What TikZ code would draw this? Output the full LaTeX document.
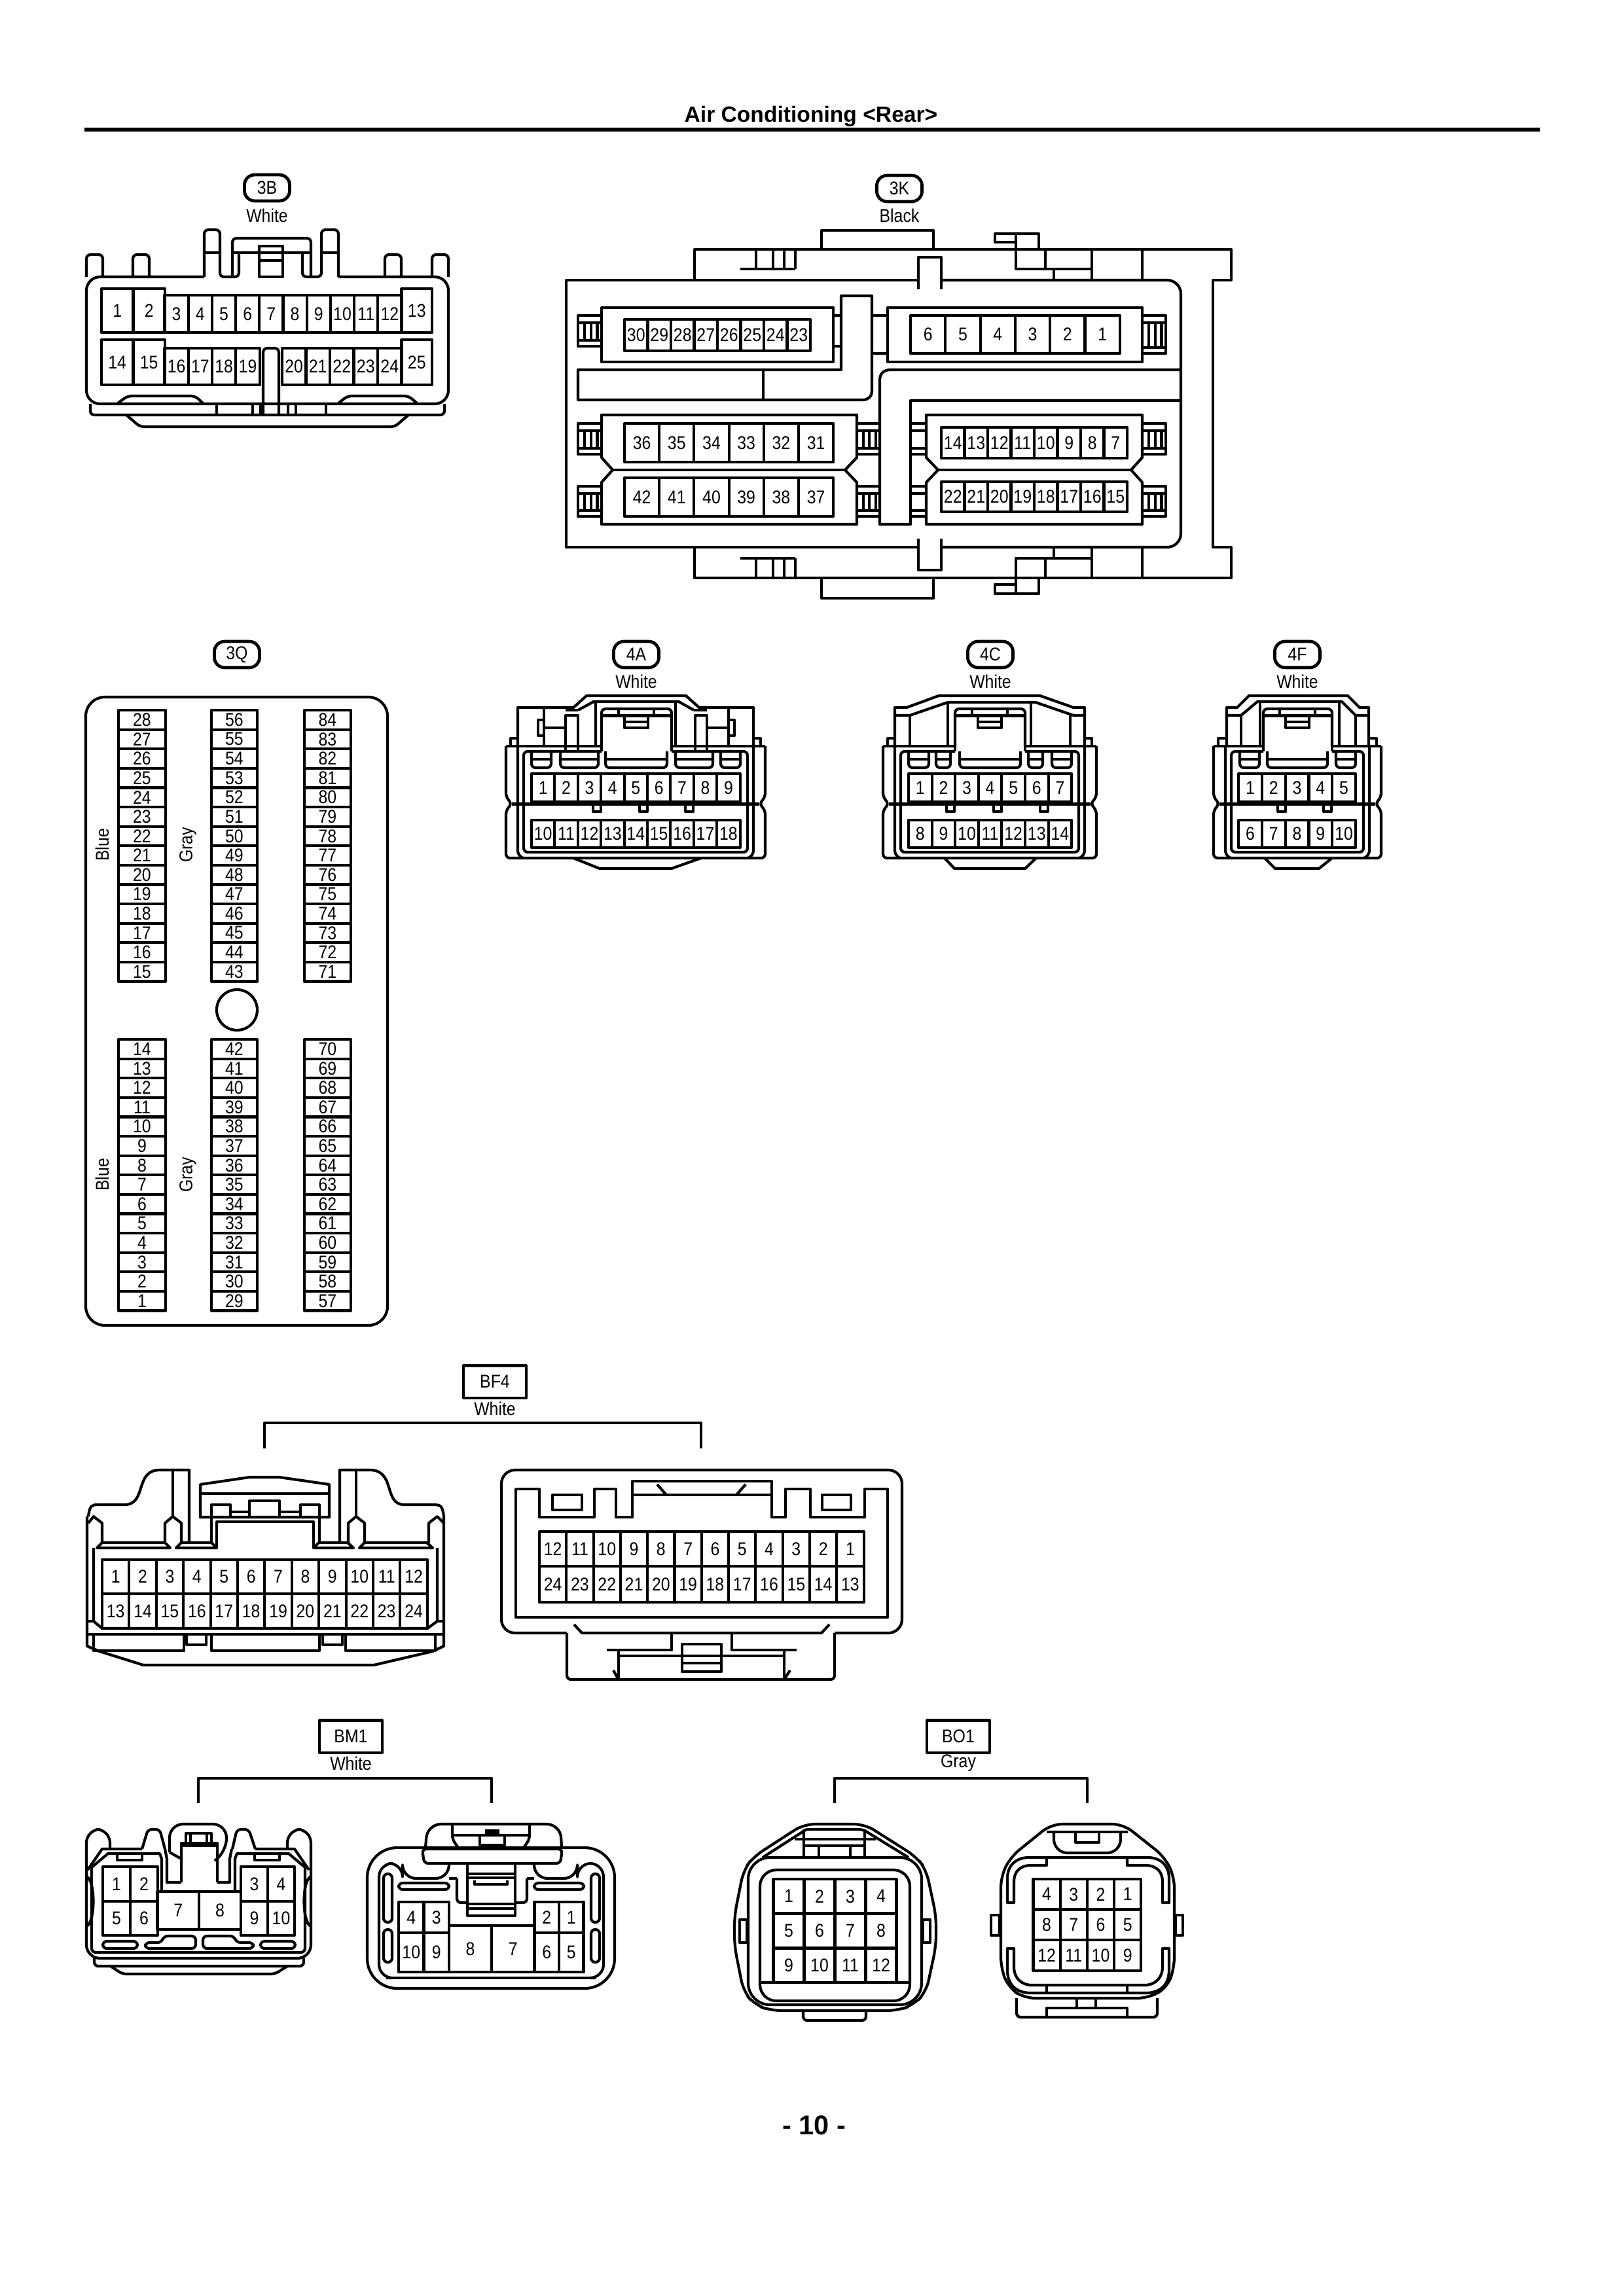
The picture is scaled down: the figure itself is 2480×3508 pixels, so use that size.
\documentclass[tikz,border=0pt]{standalone}
\usepackage{fontspec}
\setmainfont{Liberation Sans}
\newfontfamily\pinfont[FakeStretch=0.88]{Liberation Sans}
\tikzset{
  pincell/.style={draw,rectangle,inner sep=0pt,outer sep=0pt,font=\pinfont\fontsize{6.8}{7}\selectfont},
  pilltag/.style={draw,rectangle,rounded corners=3.8bp,minimum width=16.6bp,minimum height=9.6bp,inner sep=0pt,line width=1.15bp,font=\pinfont\fontsize{6.8}{7}\selectfont},
  boxtag/.style={draw,rectangle,minimum width=23bp,minimum height=11.8bp,inner sep=0pt,font=\pinfont\fontsize{6.8}{7}\selectfont},
  colorlabel/.style={inner sep=0pt,font=\pinfont\fontsize{6.8}{7}\selectfont},
  softbend/.style={rounded corners=1.5pt},
  widebend/.style={rounded corners=5pt},
  bracketline/.style={line width=1.1bp}
}
\newcommand{\pinrow}[6]{%
  \foreach \n [count=\i from 0] in {#6}
    \node[pincell,minimum width=#4*0.24bp,minimum height=#5*0.24bp] (#1p\n) at ({#2+(\i+0.5)*#4},{#3+#5/2}) {\n};
}
\newcommand{\pincol}[6]{%
  \foreach \n [count=\i from 0] in {#6}
    \node[pincell,minimum width=#4*0.24bp,minimum height=#5*0.24bp] (#1p\n) at ({#2+#4/2},{#3+(\i+0.5)*#5}) {\n};
}
\newcommand{\comb}[4]{%
  \draw (#1,#3) rectangle (#2,#4);
  \draw ({#1},{#3+11}) -- ({#2},{#3+11});
  \draw ({#1},{#4-9}) -- ({#2},{#4-9});
  \foreach \f in {0.28,0.55,0.82}
    \draw ({#1+\f*(#2-#1)},{#3+11}) -- ({#1+\f*(#2-#1)},{#4-9});
}
\newcommand{\lowbody}[4]{%
  \draw[softbend] ({#1-#2},1140) -- ({#1-#2},1218) -- ({#1-#2+9},1228) -- ({#1-#2},1238) -- ({#1-#2},1311) -- ({#1+#2},1311) -- ({#1+#2},1238) -- ({#1+#2-9},1228) -- ({#1+#2},1218) -- ({#1+#2},1140);
  \draw[line width=1.2bp] ({#1-#2+9},1228) -- ({#1+#2-9},1228);
  \draw ({#1-#2},1140) -- (#3,1140) (#4,1140) -- ({#1+#2},1140);
  \draw ({#1-#2+7},1140) -- ({#1-#2+7},1128) -- ({#1-#2+18},1128);
  \draw ({#1+#2-7},1140) -- ({#1+#2-7},1128) -- ({#1+#2-18},1128);
  \draw[softbend] ({#1-#2+18},1140) -- ({#1-#2+18},1306) -- ({#1-#2+26},1311);
  \draw[softbend] ({#1+#2-18},1140) -- ({#1+#2-18},1306) -- ({#1+#2-26},1311);
  \draw[softbend] (#3,1148) -- ({#1-#2+27},1148) -- ({#1-#2+27},1302) -- ({#1+#2-27},1302) -- ({#1+#2-27},1148) -- (#4,1148);
  \draw (#3,1140) -- (#3,1148) (#4,1140) -- (#4,1148);
}
\newcommand{\latch}[3]{%
  \draw[softbend] (#2,1140) -- (#2,1083) -- (#3,1083) -- (#3,1140);
  \draw[line width=1.2bp] (#2,1093) -- (#3,1093);
  \draw ({#1-18},1093) -- ({#1-18},1112) -- ({#1+18},1112) -- ({#1+18},1093);
  \draw ({#1-18},1103) -- ({#1+18},1103);
  \foreach \d in {-27,27}
    \draw ({#1+\d},1083) -- ({#1+\d},1093);
}
\begin{document}
\begin{tikzpicture}[x=0.24bp,y=-0.24bp,line width=1bp,line join=round]
\useasboundingbox (0,0) rectangle (2480,3508);
\fill[white] (0,0) rectangle (2480,3508);

\node[font=\bfseries\fontsize{8.1}{9}\selectfont,inner sep=0pt] (title) at (1239,178) {Air Conditioning <Rear>};
\coordinate (rulel) at (129,198);
\coordinate (ruler) at (2353,198);
\draw[line width=1.6bp] (rulel) -- (ruler);
\node[font=\bfseries\fontsize{10}{12}\selectfont,inner sep=0pt] (pageno) at (1244,3247) {- 10 -};

% 3B
\node[pilltag] (tag3B) at (408,287) {3B};
\node[colorlabel] (col3B) at (408,329) {White};
\draw[softbend] (132,423) -- (132,389) -- (157,389) -- (157,423);
\draw[softbend] (203,423) -- (203,389) -- (228,389) -- (228,423);
\draw[softbend] (588,423) -- (588,389) -- (613,389) -- (613,423);
\draw[softbend] (660,423) -- (660,389) -- (685,389) -- (685,423);
\draw[widebend] (312,423) -- (132,423) -- (132,617) -- (685,617) -- (685,423) -- (517,423);
\draw[softbend] (312,423) -- (312,351) -- (336,351) -- (336,423) -- (365,423) -- (365,386);
\draw[softbend] (517,423) -- (517,351) -- (491,351) -- (491,423) -- (462,423) -- (462,386);
\draw (312,386) -- (336,386) (491,386) -- (517,386);
\draw[softbend] (355,423) -- (355,364) -- (475,364) -- (475,423);
\draw (355,386) -- (475,386);
\draw (396,376) rectangle (432,423);
\draw (396,398) -- (432,398);
\draw[softbend] (138,617) -- (138,634) -- (679,634) -- (679,617);
\foreach \x in {331,386,398,440,452,498}
  \draw (\x,617) -- (\x,634);
\draw[softbend] (193,634) -- (214,652) -- (603,652) -- (624,634);
\draw[softbend] (180,616) -- (195,605) -- (298,605) -- (310,616);
\draw[softbend] (517,616) -- (531,605) -- (624,605) -- (637,616);
\draw[softbend] (402,634) -- (402,532) -- (426,532) -- (426,634);
\pinrow{b}{155}{441}{48.5}{67}{1,2}
\pinrow{b}{251.5}{451}{36.2}{57}{3,...,12}
\pinrow{b}{613.5}{441}{46.5}{67}{13}
\pinrow{b}{155}{519}{48.5}{69}{14,15}
\pinrow{b}{251.5}{532}{36.3}{56}{16,...,19}
\pinrow{b}{431}{532}{36.5}{56}{20,...,24}
\pinrow{b}{613.5}{519}{46.5}{69}{25}

% 3K
\node[pilltag] (tag3K) at (1374,288) {3K};
\node[colorlabel] (col3K) at (1374,329) {Black};
\draw (1255,381) -- (1255,352) -- (1426,352) -- (1426,381);
\draw (1061,428) -- (1061,381) -- (1587,381) -- (1587,357) -- (1520,357) -- (1520,370) -- (1552,370) -- (1552,411) -- (1668,411);
\draw (1587,381) -- (1881,381) -- (1881,428) -- (1853,428) -- (1853,836) -- (1881,836) -- (1881,883) -- (1061,883) -- (1061,836);
\draw (1552,357) -- (1552,370);
\draw (1597,381) -- (1597,411) (1610,411) -- (1610,428) (1668,381) -- (1668,428) (1745,381) -- (1745,428);
\draw (1255,883) -- (1255,914) -- (1426,914) -- (1426,883);
\draw (1587,883) -- (1587,907) -- (1520,907) -- (1520,893) -- (1552,893) -- (1552,853) -- (1668,853);
\draw (1552,893) -- (1552,907);
\draw (1597,853) -- (1597,883) (1610,836) -- (1610,853) (1668,836) -- (1668,883) (1745,836) -- (1745,883);
\draw (1131,411) -- (1215,411) (1131,853) -- (1215,853);
\foreach \x in {1155,1181,1198,1215}{
  \draw (\x,383) -- (\x,411);
  \draw (\x,853) -- (\x,881);
}
\draw (1403,428) -- (865,428) -- (865,836) -- (1403,836);
\draw[widebend] (1438,428) -- (1804,428) -- (1804,836) -- (1438,836);
\draw (1403,442) -- (1403,393) -- (1438,393) -- (1438,442);
\draw (1403,823) -- (1403,871) -- (1438,871) -- (1438,823);
% upper blocks
\draw (919,470) rectangle (1273,553);
\comb{883}{919}{482}{529}
\draw (1273,482) -- (1285,482) (1273,529) -- (1285,529);
\draw (883,565) -- (1285,565) -- (1285,452) -- (1332,452) -- (1332,597) .. controls (1332,606) and (1326,611) .. (1318,611) -- (883,611) -- cycle;
\draw (1166,565) -- (1166,611);
\draw (1332,482) -- (1356,482) (1332,540) -- (1356,540);
\draw (1356,470) rectangle (1745,553);
\comb{1745}{1781}{482}{540}
\draw (1804,565) -- (1360,565) .. controls (1350,565) and (1344,571) .. (1344,581) -- (1344,801) -- (1391,801) -- (1391,612) -- (1804,612);
\pinrow{k}{954}{488}{35.5}{48}{30,29,...,23}
\pinrow{k}{1391}{482}{53.3}{58}{6,5,...,1}
% lower blocks
\draw (919,634) -- (1309,634) -- (1309,699) -- (1291,718) -- (1309,737) -- (1309,801) -- (919,801) -- (919,737) -- (936,718) -- (919,699) -- cycle;
\draw (936,718) -- (1291,718);
\draw (1415,634) -- (1745,634) -- (1745,699) -- (1728,718) -- (1745,737) -- (1745,801) -- (1415,801) -- (1415,737) -- (1433,718) -- (1415,699) -- cycle;
\draw (1433,718) -- (1728,718);
\foreach \yy/\yb in {647/694,743/789}{
  \comb{883}{919}{\yy}{\yb}
  \comb{1309}{1344}{\yy}{\yb}
  \comb{1745}{1781}{\yy}{\yb}
  \draw (1391,\yy) -- (1415,\yy) (1391,\yb) -- (1415,\yb);
  \draw (1391,{\yy+11}) -- (1415,{\yy+11});
  \draw (1391,{\yb-9}) -- (1415,{\yb-9});
}
\pinrow{k}{954}{647}{53.2}{59}{36,35,...,31}
\pinrow{k}{954}{730}{53.2}{59}{42,41,...,37}
\pinrow{k}{1438}{653}{35.5}{47}{14,13,...,7}
\pinrow{k}{1438}{736}{35.5}{46}{22,21,...,15}

% 3Q
\node[pilltag] (tag3Q) at (362,1000) {3Q};
\draw[rounded corners=7pt] (131,1065) rectangle (592,2025);
\node[draw,circle,minimum size=62*0.24bp,inner sep=0pt] (hole3Q) at (362,1543) {};
\node[colorlabel,rotate=90] (blueup) at (156,1291) {Blue};
\node[colorlabel,rotate=90] (grayup) at (287,1291) {Gray};
\node[colorlabel,rotate=90] (bluelow) at (156,1795) {Blue};
\node[colorlabel,rotate=90] (graylow) at (287,1795) {Gray};
\pincol{q}{181}{1085}{72}{29.6}{28,27,...,15}
\pincol{q}{323}{1085}{70}{29.6}{56,55,...,43}
\pincol{q}{465}{1085}{71}{29.6}{84,83,...,71}
\pincol{q}{181}{1588}{72}{29.6}{14,13,...,1}
\pincol{q}{323}{1588}{70}{29.6}{42,41,...,29}
\pincol{q}{465}{1588}{71}{29.6}{70,69,...,57}

% 4A
\node[pilltag] (tag4A) at (972,1000) {4A};
\node[colorlabel] (col4A) at (972,1041) {White};
\draw (791,1140) -- (791,1081) -- (876,1081) -- (896,1063) -- (1048,1063) -- (1068,1081) -- (1151,1081) -- (1151,1140);
\draw (864,1093) rectangle (883,1148);
\draw (1062,1093) rectangle (1080,1148);
\draw (883,1085) -- (907,1072) -- (1037,1072) -- (1060,1085);
\draw (864,1085) -- (883,1085) (1060,1085) -- (1080,1085);
\draw (910,1072) -- (910,1140) (1032,1072) -- (1032,1140);
\draw (831,1081) -- (831,1140) (1113,1081) -- (1113,1140);
\draw (822,1100) rectangle (831,1124);
\draw (1113,1100) rectangle (1122,1124);
\draw (831,1112) -- (864,1112) (1080,1112) -- (1113,1112);
\latch{972}{919}{1026}
\lowbody{971}{198}{919}{1026}
\foreach \a/\b in {812/842,856/914,925/1019,1032/1089,1101/1131}{
  \draw[softbend] (\a,1148) -- (\a,1173) -- (\b,1173) -- (\b,1148);
  \draw (\a,1160) -- (\b,1160);
}
\foreach \d in {912,983,1053}
  \draw ({\d-6},1228) -- ({\d-6},1240) -- ({\d+6},1240) -- ({\d+6},1228);
\draw (876,1311) -- (916,1327) -- (1026,1327) -- (1071,1311);
\pinrow{a}{812}{1182}{35.4}{43}{1,...,9}
\pinrow{a}{812}{1253}{35.4}{42}{10,...,18}

% 4C
\node[pilltag] (tag4C) at (1513,1000) {4C};
\node[colorlabel] (col4C) at (1513,1041) {White};
\draw (1367,1140) -- (1367,1081) -- (1385,1081) -- (1434,1063) -- (1589,1063) -- (1640,1081) -- (1657,1081) -- (1657,1140);
\draw (1367,1093) -- (1390,1093) -- (1448,1073) -- (1582,1073) -- (1640,1093) -- (1657,1093);
\draw (1390,1093) -- (1390,1140) (1448,1073) -- (1448,1140) (1575,1073) -- (1575,1140) (1635,1093) -- (1635,1140);
\latch{1512}{1459}{1566}
\lowbody{1512}{163}{1459}{1566}
\foreach \a/\b in {1388/1419,1430/1452,1466/1559,1571/1593,1607/1637}{
  \draw[softbend] (\a,1148) -- (\a,1173) -- (\b,1173) -- (\b,1148);
  \draw (\a,1160) -- (\b,1160);
}
\foreach \d in {1452,1524,1595}
  \draw ({\d-6},1228) -- ({\d-6},1240) -- ({\d+6},1240) -- ({\d+6},1228);
\draw (1443,1311) -- (1458,1327) -- (1566,1327) -- (1583,1311);
\pinrow{c}{1388}{1182}{35.6}{43}{1,...,7}
\pinrow{c}{1388}{1253}{35.6}{42}{8,...,14}

% 4F
\node[pilltag] (tag4F) at (1982,1000) {4F};
\node[colorlabel] (col4F) at (1982,1041) {White};
\draw (1874,1140) -- (1874,1081) -- (1890,1081) -- (1908,1063) -- (2059,1063) -- (2077,1081) -- (2091,1081) -- (2091,1140);
\draw (1874,1093) -- (1896,1093) -- (1921,1072) -- (2050,1072) -- (2071,1093) -- (2091,1093);
\draw (1896,1093) -- (1896,1140) (1925,1072) -- (1925,1140) (2046,1072) -- (2046,1140) (2071,1093) -- (2071,1140);
\latch{1982}{1930}{2035}
\lowbody{1982}{128}{1930}{2035}
\foreach \a/\b in {1894/1924,1936/2028,2041/2071}{
  \draw[softbend] (\a,1148) -- (\a,1173) -- (\b,1173) -- (\b,1148);
  \draw (\a,1160) -- (\b,1160);
}
\foreach \d in {1958,2028}
  \draw ({\d-6},1228) -- ({\d-6},1240) -- ({\d+6},1240) -- ({\d+6},1228);
\draw (1932,1311) -- (1948,1327) -- (2015,1327) -- (2035,1311);
\pinrow{f}{1892}{1182}{35.8}{43}{1,...,5}
\pinrow{f}{1892}{1253}{35.8}{42}{6,...,10}

% BF4
\node[boxtag] (tagBF4) at (756,2111) {BF4};
\node[colorlabel] (colBF4) at (756,2152) {White};
\coordinate (bf4a) at (404,2213);
\coordinate (bf4b) at (1071,2213);
\coordinate (bf4c) at (404,2174);
\coordinate (bf4d) at (1071,2174);
\draw[bracketline] (bf4a) -- (bf4c) -- (bf4d) -- (bf4b);
% left half
\draw (135,2317) .. controls (137,2300) and (140,2299) .. (150,2299) -- (190,2299) .. controls (225,2299) and (205,2246) .. (244,2246) -- (289,2246) -- (289,2356);
\draw (678,2317) .. controls (676,2300) and (673,2299) .. (661,2299) -- (618,2299) .. controls (585,2299) and (605,2246) .. (565,2246) -- (519,2246) -- (519,2356);
\draw (264,2246) -- (264,2317) (544,2246) -- (544,2317);
\draw (306,2318) -- (306,2268) -- (381,2257) -- (427,2257) -- (503,2268) -- (503,2318) -- cycle;
\draw (306,2282) -- (503,2282);
\draw (323,2318) -- (323,2299) -- (352,2299) -- (352,2318) (381,2318) -- (381,2293) -- (427,2293) -- (427,2318) (459,2318) -- (459,2299) -- (488,2299) -- (488,2318);
\draw (352,2310) -- (381,2310) (427,2310) -- (459,2310);
\draw (331,2365) -- (331,2325) -- (479,2325) -- (479,2365);
\draw (323,2318) -- (323,2356) (488,2318) -- (488,2356);
\draw (148,2365) -- (156,2357) -- (252,2357) -- (260,2365) -- cycle;
\draw (269,2365) -- (277,2357) -- (323,2357) -- (331,2365) -- cycle;
\draw (479,2365) -- (487,2357) -- (531,2357) -- (540,2365) -- cycle;
\draw (549,2365) -- (557,2357) -- (652,2357) -- (661,2365) -- cycle;
\draw (252,2357) -- (252,2327) -- (264,2317) -- (277,2327) -- (277,2357);
\draw (532,2357) -- (532,2327) -- (544,2317) -- (557,2327) -- (557,2357);
\draw (135,2327) -- (143,2317) -- (156,2327) -- (156,2357);
\draw (678,2327) -- (668,2317) -- (655,2327) -- (655,2357);
\draw (133,2317) -- (133,2515) -- (152,2523) -- (219,2544) -- (571,2544) -- (661,2523) -- (678,2515) -- (678,2317);
\draw (143,2365) -- (143,2477) -- (156,2488) -- (653,2488) -- (668,2477) -- (668,2365);
\draw (133,2477) -- (143,2477) (668,2477) -- (678,2477);
\draw (135,2497) -- (676,2497);
\draw (143,2497) -- (143,2522) -- (281,2522) -- (281,2497);
\draw (323,2497) -- (323,2522) -- (488,2522) -- (488,2497);
\draw (528,2497) -- (528,2522) -- (665,2522) -- (665,2497);
\draw (285,2497) -- (285,2513) -- (315,2513) -- (315,2497);
\draw (493,2497) -- (493,2513) -- (523,2513) -- (523,2497);
\pinrow{l}{156}{2383}{41.4}{52}{1,...,12}
\pinrow{l}{156}{2435}{41.4}{53}{13,...,24}
% right half
\draw[widebend] (866,2495) -- (766,2495) -- (766,2246) -- (1378,2246) -- (1378,2495) -- (1275,2495);
\draw[softbend] (866,2495) -- (866,2566) -- (1275,2566) -- (1275,2495);
\draw (788,2471) -- (788,2275) -- (824,2275) -- (824,2318) -- (908,2318) -- (908,2275) -- (941,2275) -- (941,2318) -- (966,2318) -- (966,2263) -- (1179,2263) -- (1179,2318) -- (1200,2318) -- (1200,2275) -- (1238,2275) -- (1238,2318) -- (1321,2318) -- (1321,2275) -- (1356,2275) -- (1356,2471) -- cycle;
\draw (844,2284) rectangle (889,2307);
\draw (1256,2284) rectangle (1300,2307);
\draw (966,2284) -- (1179,2284);
\draw (1004,2268) -- (1018,2284) (1139,2268) -- (1125,2284);
\draw (877,2482) -- (889,2495) -- (1255,2495) -- (1267,2482);
\draw (1026,2495) -- (1026,2521) -- (927,2521);
\draw (1118,2495) -- (1118,2521) -- (1217,2521);
\draw (945,2521) -- (945,2566) (1198,2521) -- (1198,2566);
\draw (945,2530) -- (1198,2530);
\draw (1042,2530) -- (1042,2512) -- (1102,2512) -- (1102,2530);
\draw (1042,2530) rectangle (1102,2554);
\draw (1042,2541) -- (1102,2541);
\draw (937,2552) -- (945,2566) (1207,2552) -- (1198,2566);
\pinrow{r}{824}{2340}{41.3}{53}{12,11,...,1}
\pinrow{r}{824}{2393}{41.3}{55}{24,23,...,13}

% BM1
\node[boxtag] (tagBM1) at (536,2653) {BM1};
\node[colorlabel] (colBM1) at (536,2694) {White};
\coordinate (bm1a) at (303,2755);
\coordinate (bm1b) at (751,2755);
\coordinate (bm1c) at (303,2717);
\coordinate (bm1d) at (751,2717);
\draw[bracketline] (bm1a) -- (bm1c) -- (bm1d) -- (bm1b);
% left half
\draw[widebend] (168,2825) -- (168,2795) -- (132,2795) -- (132,2992) -- (475,2992) -- (475,2795) -- (439,2795) -- (439,2825);
\draw[softbend] (217,2825) -- (226,2795) -- (244,2795) -- (252,2825);
\draw[softbend] (355,2825) -- (362,2795) -- (380,2795) -- (390,2825);
\draw[widebend] (259,2830) -- (259,2787) -- (346,2787) -- (346,2830) -- (332,2840);
\draw (259,2830) -- (277,2840);
\draw (277,2876) -- (277,2816) -- (332,2816) -- (332,2876);
\draw (284,2816) -- (284,2801) -- (323,2801) -- (323,2816);
\draw (291,2801) -- (291,2816) (316,2801) -- (316,2816);
\draw (277,2820) -- (332,2820);
\draw (134,2857) -- (156,2825) -- (217,2825) (252,2825) -- (255,2840) -- (255,2876) -- (277,2876);
\draw (472,2857) -- (450,2825) -- (390,2825) (354,2825) -- (351,2840) -- (351,2876) -- (332,2876);
\draw (140,2853) -- (165,2832) -- (244,2832) -- (247,2840) -- (247,2888);
\draw (466,2853) -- (441,2832) -- (362,2832) -- (359,2840) -- (359,2888);
\draw (179,2832) -- (179,2842) -- (217,2842) -- (217,2832);
\draw (389,2832) -- (389,2842) -- (427,2842) -- (427,2832);
\draw[softbend] (140,2853) -- (140,2983) -- (466,2983) -- (466,2853);
\draw (132,2867) .. controls (146,2872) and (146,2938) .. (132,2943);
\draw (475,2867) .. controls (461,2872) and (461,2938) .. (475,2943);
\draw[softbend] (157,2966) rectangle (210,2977);
\draw[softbend] (398,2966) rectangle (451,2977);
\draw[softbend] (222,2968) -- (222,2977) -- (299,2977) -- (299,2958) -- (250,2958) -- (247,2968) -- cycle;
\draw[softbend] (387,2968) -- (387,2977) -- (310,2977) -- (310,2958) -- (358,2958) -- (361,2968) -- cycle;
\draw[softbend] (144,2992) -- (144,3004) -- (464,3004) -- (464,2992);
\draw[softbend] (169,3004) -- (187,3016) -- (420,3016) -- (439,3004);
\pinrow{m}{157}{2852}{42}{53}{1,2}
\pinrow{m}{157}{2905}{42}{52}{5,6}
\pinrow{m}{368}{2852}{41}{53}{3,4}
\pinrow{m}{368}{2905}{41}{52}{9,10}
\pinrow{m}{240.5}{2890}{63.7}{58}{7,8}
% right half
\draw[rounded corners=11pt] (561,2823) rectangle (939,3038);
\draw[widebend] (650,2823) -- (653,2787) -- (856,2787) -- (858,2823);
\draw[softbend] (691,2787) -- (691,2810) -- (700,2823) (809,2787) -- (809,2810) -- (800,2823);
\draw (691,2804) -- (809,2804);
\fill (741,2795) rectangle (763,2804);
\draw (733,2804) rectangle (771,2819);
\draw[softbend] (645,2825) -- (648,2847) -- (856,2847) -- (859,2825) -- cycle;
\draw[widebend] (590,3022) -- (579,3022) -- (579,2847) -- (615,2847) -- (615,2870) -- (686,2870) -- (686,2847);
\draw[widebend] (910,3022) -- (922,3022) -- (922,2847) -- (882,2847) -- (882,2870) -- (816,2870) -- (816,2847);
\draw (590,3022) -- (910,3022);
\draw[softbend] (698,2870) -- (698,2907) -- (714,2907);
\draw[softbend] (805,2870) -- (805,2907) -- (787,2907);
\draw (686,2870) -- (698,2870) (805,2870) -- (816,2870);
\draw (714,2847) -- (714,2927) -- (787,2927) -- (787,2847);
\draw (714,2863) -- (787,2863) (714,2869) -- (787,2869);
\draw (725,2873) -- (725,2879) -- (775,2879) -- (775,2873);
\draw (714,2909) -- (787,2909) (714,2916) -- (787,2916);
\draw[softbend] (609,2877) rectangle (686,2887);
\draw[softbend] (816,2877) rectangle (892,2887);
\draw[softbend] (586,2863) rectangle (599,2937);
\draw[softbend] (586,2948) rectangle (599,2998);
\draw[softbend] (903,2863) rectangle (916,2937);
\draw[softbend] (903,2948) rectangle (916,2998);
\pinrow{n}{609}{2906}{38.5}{47}{4,3}
\pinrow{n}{609}{2953}{38.5}{60}{10,9}
\pinrow{n}{816.5}{2906}{37.5}{47}{2,1}
\pinrow{n}{816.5}{2953}{37.5}{60}{6,5}
\pinrow{n}{686}{2942}{65.2}{71}{8,7}

% BO1
\node[boxtag] (tagBO1) at (1464,2653) {BO1};
\node[colorlabel] (colBO1) at (1464,2694) {Gray};
\coordinate (bo1a) at (1275,2755);
\coordinate (bo1b) at (1661,2755);
\coordinate (bo1c) at (1275,2717);
\coordinate (bo1d) at (1661,2717);
\draw[bracketline] (bo1a) -- (bo1c) -- (bo1d) -- (bo1b);
% left half
\draw[rounded corners=4pt] (1228,2787) -- (1321,2787) -- (1400,2837) -- (1415,2857) -- (1430,2927) -- (1430,2973) -- (1415,3043) -- (1396,3063) -- (1371,3072) -- (1178,3072) -- (1153,3063) -- (1136,3043) -- (1122,2973) -- (1122,2927) -- (1136,2857) -- (1151,2837) -- cycle;
\draw[softbend] (1232,2795) -- (1318,2795) -- (1388,2838);
\draw[softbend] (1232,2795) -- (1165,2838);
\draw[rounded corners=8pt] (1143,2838) rectangle (1408,3063);
\draw[rounded corners=6pt] (1161,2857) rectangle (1390,3057);
\draw (1214,2810) -- (1338,2810) (1228,2820) -- (1321,2820);
\draw (1228,2795) -- (1228,2838) (1321,2795) -- (1321,2838);
\draw (1251,2820) -- (1251,2838) (1299,2820) -- (1299,2838);
\draw (1130,2933) rectangle (1141,2968);
\draw (1410,2933) rectangle (1421,2968);
\draw (1159,3029) -- (1391,3029);
\draw[softbend] (1227,3072) -- (1227,3087) -- (1323,3087) -- (1323,3072);
\pinrow{o}{1181.5}{2871}{47}{52.5}{1,...,4}
\pinrow{o}{1181.5}{2923.5}{47}{53}{5,...,8}
\pinrow{o}{1181.5}{2976.5}{47}{52.5}{9,...,12}
% right half
\draw[rounded corners=4pt] (1606,2787) -- (1716,2787) -- (1779,2837) -- (1794,2867) -- (1794,3007) -- (1783,3037) -- (1754,3053) -- (1565,3053) -- (1541,3037) -- (1529,3007) -- (1529,2867) -- (1544,2837) -- cycle;
\draw (1599,2799) -- (1723,2799);
\draw[widebend] (1610,2799) -- (1610,2831) -- (1712,2831) -- (1712,2799);
\draw (1643,2799) -- (1643,2815) -- (1679,2815) -- (1679,2799);
\draw (1539,2907) -- (1539,2870) .. controls (1539,2850) and (1552,2838) .. (1572,2838) -- (1599,2838) -- (1599,2850) -- (1575,2850) .. controls (1558,2850) and (1549,2860) .. (1549,2875) -- (1549,2907) -- cycle;
\draw (1786,2907) -- (1786,2870) .. controls (1786,2850) and (1773,2838) .. (1753,2838) -- (1722,2838) -- (1722,2850) -- (1750,2850) .. controls (1767,2850) and (1776,2860) .. (1776,2875) -- (1776,2907) -- cycle;
\draw (1599,2838) -- (1722,2838);
\draw (1539,2977) -- (1539,3010) .. controls (1539,3032) and (1552,3045) .. (1575,3045) -- (1750,3045) .. controls (1773,3045) and (1786,3032) .. (1786,3010) -- (1786,2977) -- (1776,2977) -- (1776,3005) .. controls (1776,3022) and (1765,3033) .. (1748,3033) -- (1577,3033) .. controls (1560,3033) and (1549,3022) .. (1549,3005) -- (1549,2977) -- cycle;
\draw (1599,3033) -- (1599,3045) (1722,3033) -- (1722,3045);
\draw (1514,2926) rectangle (1527,2957);
\draw (1796,2926) rectangle (1807,2957);
\draw[softbend] (1553,3053) -- (1553,3082) -- (1768,3082) -- (1768,3053);
\draw (1599,3082) -- (1599,3068) -- (1722,3068) -- (1722,3082);
\draw (1645,3053) -- (1645,3068) (1674,3053) -- (1674,3068);
\pinrow{u}{1578.5}{2871}{41.2}{46.5}{4,3,...,1}
\pinrow{u}{1578.5}{2917.5}{41.2}{46.5}{8,7,...,5}
\pinrow{u}{1578.5}{2964}{41.2}{47}{12,11,...,9}
\end{tikzpicture}
\end{document}
